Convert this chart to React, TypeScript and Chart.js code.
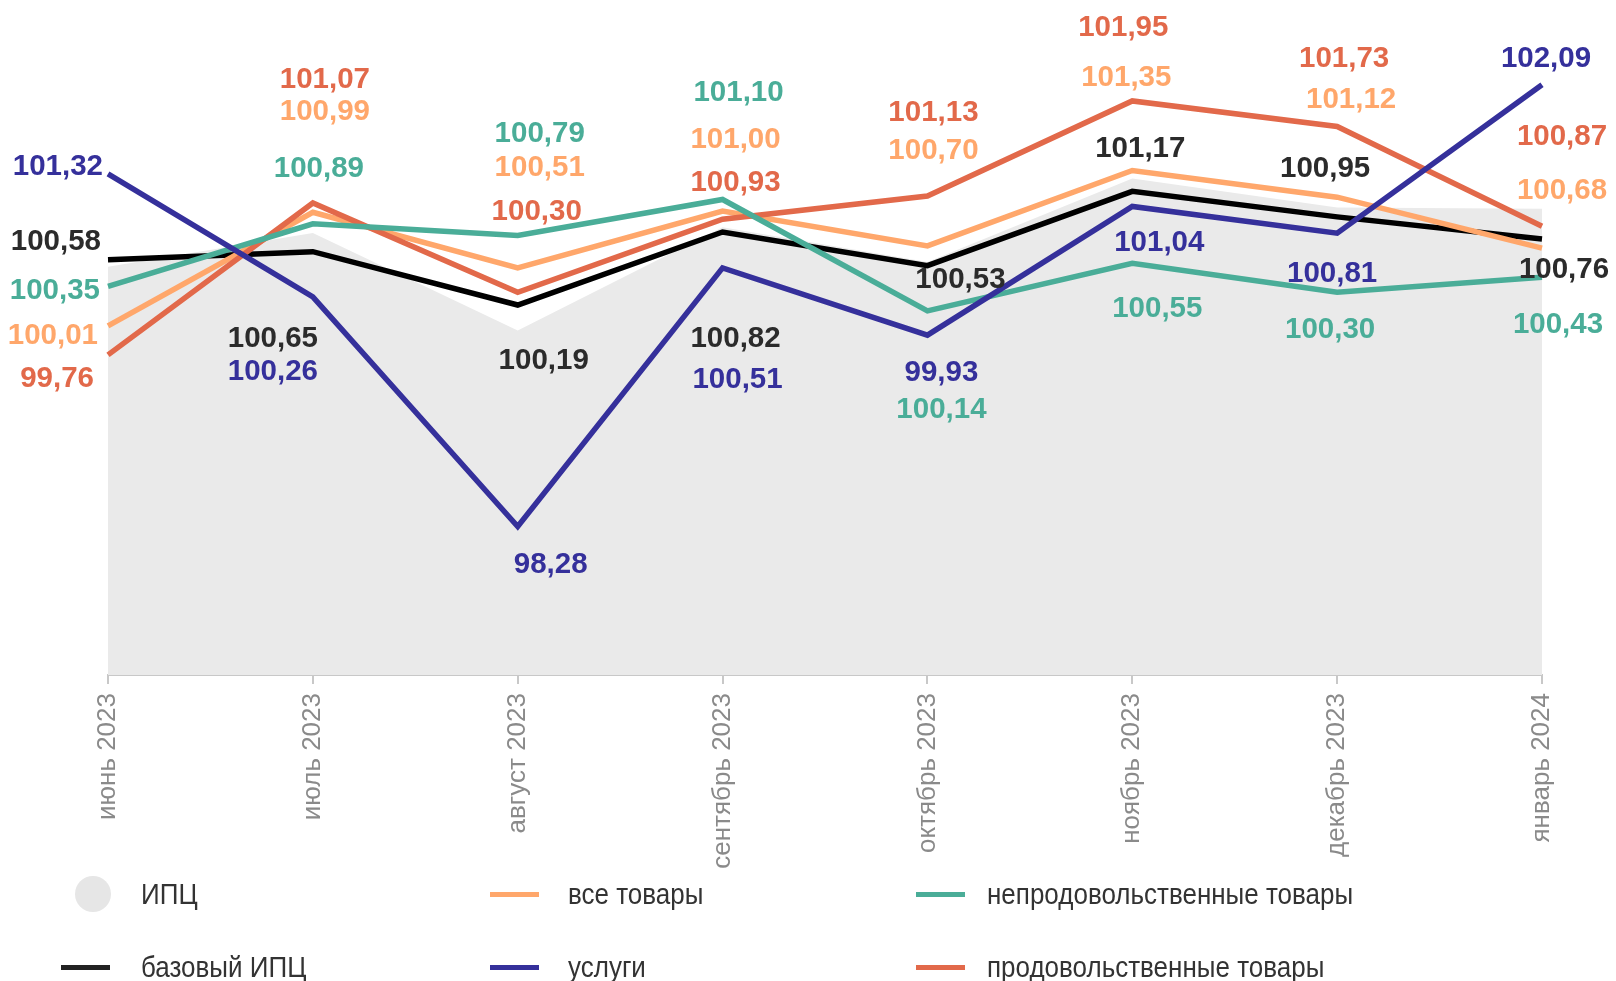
import React, { useEffect, useRef } from "react";
import { Chart, registerables } from "chart.js";

Chart.register(...registerables);

// ---- Data ----
const months = [
  "июнь 2023",
  "июль 2023",
  "август 2023",
  "сентябрь 2023",
  "октябрь 2023",
  "ноябрь 2023",
  "декабрь 2023",
  "январь 2024",
];
const cpi = [100.52, 100.81, 99.97, 100.86, 100.56, 101.28, 101.03, 101.02];
const baseCpi = [100.58, 100.65, 100.19, 100.82, 100.53, 101.17, 100.95, 100.76];
const allGoods = [100.01, 100.99, 100.51, 101.0, 100.7, 101.35, 101.12, 100.68];
const nonFood = [100.35, 100.89, 100.79, 101.1, 100.14, 100.55, 100.3, 100.43];
const food = [99.76, 101.07, 100.3, 100.93, 101.13, 101.95, 101.73, 100.87];
const services = [101.32, 100.26, 98.28, 100.51, 99.93, 101.04, 100.81, 102.09];

// ---- Label placement (pixel offsets from each point) ----
const baseDx = [-7, -40, 26, 13, 33, 8, -12, 22];
const baseDy = [-20, 85, 54, 105, 12.5, -45, -50, 29];
const servicesDx = [-5, -40, 33, 15, 14, 27, -5, 4];
const servicesDy = [-9, 73, 36.5, 110, 36, 34, 39, -28];
const foodDx = [-14, 12, 19, 13, 6, -9, 7, 20];
const foodDy = [22, -125.6, -82, -38, -85, -75, -70, -91];
const allGoodsDx = [-10, 12, 22, 13, 6, -6, 14, 20];
const allGoodsDy = [8, -102, -102, -73, -97, -95, -99, -59];
const nonFoodDx = [-8, 6, 22, 16, 14, 25, -7, 16];
const nonFoodDy = [2, -57, -104, -109, 97, 44, 36, 46];

// ---- Styles ----
const COL_CPI = "#EAEAEA";
const COL_BASE = "#000000";
const COL_BASE_TXT = "#2b2b2b";
const COL_ALL = "#FFA76B";
const COL_NONFOOD = "#4AAD98";
const COL_FOOD = "#E2694A";
const COL_SERV = "#35309B";

const FONT = '"Liberation Sans", Arial, sans-serif';
const LABEL_BASELINE_SHIFT = 2;

const fmt = (v: number) => v.toFixed(2).replace(".", ",");

const labelPlugin = {
  id: "pointLabels",
  afterDatasetsDraw(chart: any) {
    const ctx = chart.ctx;
    ctx.save();
    ctx.font = `bold 29.5px ${FONT}`;
    ctx.textBaseline = "middle";
    chart.data.datasets.forEach((ds: any, di: number) => {
      if (!ds.labelDx) return;
      const meta = chart.getDatasetMeta(di);
      meta.data.forEach((pt: any, i: number) => {
        const x = pt.x + ds.labelDx[i];
        const y = pt.y + ds.labelDy[i] + LABEL_BASELINE_SHIFT;
        ctx.textAlign = i === 0 ? "right" : "center";
        ctx.fillStyle = ds.labelColor;
        ctx.fillText(fmt(ds.data[i]), x, y);
      });
    });
    ctx.restore();
  },
};

const legendItems = [
  { label: "ИПЦ", color: "#E6E6E6", kind: "circle", x: 93, textX: 141, y: 894 },
  { label: "все товары", color: COL_ALL, kind: "line", x: 490, textX: 568, y: 894 },
  { label: "непродовольственные товары", color: COL_NONFOOD, kind: "line", x: 916, textX: 987, y: 894 },
  { label: "базовый ИПЦ", color: "#222222", kind: "line", x: 61, textX: 141, y: 967 },
  { label: "услуги", color: COL_SERV, kind: "line", x: 490, textX: 568, y: 967 },
  { label: "продовольственные товары", color: COL_FOOD, kind: "line", x: 916, textX: 987, y: 967 },
];

export default function App() {
  const canvasRef = useRef<HTMLCanvasElement | null>(null);

  useEffect(() => {
    if (!canvasRef.current) return;
    const lineDs = (label: string, data: number[], color: string, txt: string, dx: number[], dy: number[]) => ({
      type: "line" as const,
      label,
      data,
      borderColor: color,
      backgroundColor: color,
      borderWidth: 5.5,
      pointRadius: 0,
      tension: 0,
      fill: false,
      labelColor: txt,
      labelDx: dx,
      labelDy: dy,
    });
    const chart = new Chart(canvasRef.current, {
      type: "line",
      data: {
        labels: months,
        datasets: [
          lineDs("услуги", services, COL_SERV, COL_SERV, servicesDx, servicesDy),
          lineDs("непродовольственные товары", nonFood, COL_NONFOOD, COL_NONFOOD, nonFoodDx, nonFoodDy),
          lineDs("продовольственные товары", food, COL_FOOD, COL_FOOD, foodDx, foodDy),
          lineDs("все товары", allGoods, COL_ALL, COL_ALL, allGoodsDx, allGoodsDy),
          lineDs("базовый ИПЦ", baseCpi, COL_BASE, COL_BASE_TXT, baseDx, baseDy),
          {
            label: "ИПЦ",
            data: cpi,
            borderWidth: 0,
            borderColor: "rgba(0,0,0,0)",
            backgroundColor: COL_CPI,
            pointRadius: 0,
            tension: 0,
            fill: "start",
          } as any,
        ],
      },
      options: {
        responsive: false,
        animation: false,
        layout: { padding: { left: 108, right: 74, top: 0, bottom: 0 } },
        plugins: {
          legend: { display: false },
          tooltip: { enabled: false },
        },
        scales: {
          x: {
            offset: false,
            afterFit: (scale: any) => {
              scale.height = 306;
            },
            grid: {
              display: true,
              drawOnChartArea: false,
              drawTicks: true,
              tickLength: 9,
              color: "#c8c8c8",
              lineWidth: 2,
            },
            border: { display: true, color: "#c8c8c8", width: 2 },
            ticks: {
              minRotation: 90,
              maxRotation: 90,
              autoSkip: false,
              padding: 9,
              color: "#8a8a8a",
              font: { family: FONT, size: 26 },
            },
          },
          y: {
            display: false,
            min: 97,
            max: 102.82,
          },
        },
      } as any,
      plugins: [labelPlugin],
    });
    return () => chart.destroy();
  }, []);

  return (
    <div
      style={{
        position: "fixed",
        left: 0,
        top: 0,
        width: 1616,
        height: 981,
        background: "#ffffff",
        overflow: "hidden",
      }}
    >
      <canvas ref={canvasRef} width={1616} height={981} style={{ position: "absolute", left: 0, top: 0 }} />
      {legendItems.map((it) => (
        <React.Fragment key={it.label}>
          {it.kind === "circle" ? (
            <div
              style={{
                position: "absolute",
                left: it.x - 18,
                top: it.y - 18,
                width: 36,
                height: 36,
                borderRadius: "50%",
                background: it.color,
              }}
            />
          ) : (
            <div
              style={{
                position: "absolute",
                left: it.x,
                top: it.y - 2.5,
                width: 49,
                height: 5,
                background: it.color,
              }}
            />
          )}
          <div
            style={{
              position: "absolute",
              left: it.textX,
              top: it.y - 18,
              height: 36,
              lineHeight: "36px",
              fontFamily: FONT,
              fontSize: 26,
              color: "#333333",
              whiteSpace: "nowrap",
              transform: "scaleY(1.12)",
              transformOrigin: "left center",
            }}
          >
            {it.label}
          </div>
        </React.Fragment>
      ))}
    </div>
  );
}
